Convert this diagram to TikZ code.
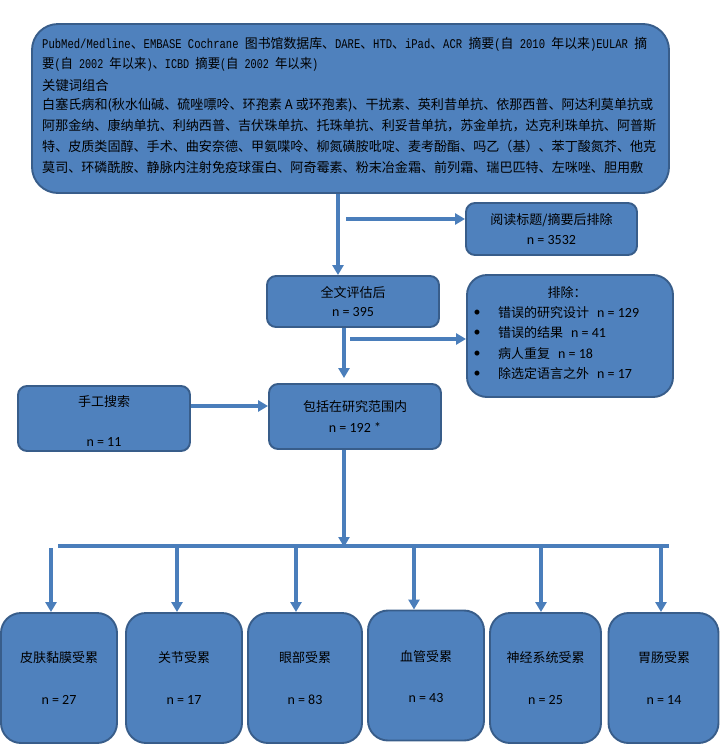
\documentclass[tikz,border=0pt]{standalone}
\usepackage{fontspec}
\usepackage{graphicx}
\setmainfont{Carlito}
\newfontfamily\cjk{Noto Sans CJK SC}
\newfontfamily\lmono{Liberation Mono}
\usetikzlibrary{arrows.meta,calc}
\definecolor{boxfill}{HTML}{4F81BD}
\definecolor{boxline}{HTML}{385D8A}
\definecolor{arrowc}{HTML}{4A7EBB}
\newcommand\lt[1]{\scalebox{0.82}[1]{\lmono\fontsize{13.3pt}{16pt}\selectfont #1}}
\newcommand\nm[1]{{\rmfamily\fontsize{14pt}{16pt}\selectfont #1}}
\newcommand\fitline[2]{\resizebox{#1}{\height}{#2}}
\begin{document}
\begin{tikzpicture}[x=1pt,y=-1pt,
  box/.style={draw=boxline, fill=boxfill, line width=1.9pt, rounded corners=9pt, inner sep=0pt},
  bigbox/.style={box, rounded corners=20pt},
  conn/.style={draw=arrowc, line width=3.2pt, -{Triangle[length=10pt,width=11pt]}},
  busline/.style={draw=arrowc, line width=3.2pt},
  cj/.style={font=\cjk\fontsize{13pt}{16pt}\selectfont, inner sep=0pt, text=black},
  num/.style={font=\fontsize{14pt}{16pt}\selectfont, inner sep=0pt, text=black},
  topline/.style={font=\cjk\fontsize{13.3pt}{16pt}\selectfont, inner sep=0pt, anchor=west, text=black},
]
\useasboundingbox (0,0) rectangle (720,745);

% search box
\node[box, rounded corners=26pt, minimum width=637pt, minimum height=169pt] (search) at (350.5,108.5) {};
\node[topline] (l1) at (42,44) {\fitline{605pt}{\lt{PubMed/Medline}、\lt{EMBASE Cochrane }图书馆数据库、\lt{DARE}、\lt{HTD}、\lt{iPad}、\lt{ACR }摘要\lt{(}自\lt{ 2010 }年以来\lt{)EULAR }摘}};
\node[topline] (l2) at (42,64.5) {\fitline{276pt}{要\lt{(}自\lt{ 2002 }年以来\lt{)}、\lt{ICBD }摘要\lt{(}自\lt{ 2002 }年以来\lt{)}}};
\node[topline] (l3) at (42,85) {关键词组合};
\node[topline] (l4) at (42,105.5) {\fitline{611pt}{白塞氏病和(秋水仙碱、硫唑嘌呤、环孢素 A 或环孢素)、干扰素、英利昔单抗、依那西普、阿达利莫单抗或}};
\node[topline] (l5) at (42,126) {\fitline{614pt}{阿那金纳、康纳单抗、利纳西普、吉伏珠单抗、托珠单抗、利妥昔单抗，苏金单抗，达克利珠单抗、阿普斯}};
\node[topline] (l6) at (42,146.5) {\fitline{614pt}{特、皮质类固醇、手术、曲安奈德、甲氨喋呤、柳氮磺胺吡啶、麦考酚酯、吗乙（基）、苯丁酸氮芥、他克}};
\node[topline] (l7) at (42,167) {\fitline{601pt}{莫司、环磷酰胺、静脉内注射免疫球蛋白、阿奇霉素、粉末冶金霜、前列霜、瑞巴匹特、左咪唑、胆用敷}};

% read exclusion
\node[box, minimum width=171pt, minimum height=52pt] (read) at (551.5,229) {};
\node[cj] (readt) at (551.5,220) {阅读标题/摘要后排除};
\node[num] (readn) at (551.5,240) {n = 3532};

% full text
\node[box, minimum width=172pt, minimum height=51pt] (full) at (353,301.5) {};
\node[cj] (fullt) at (353,292) {全文评估后};
\node[num] (fulln) at (353,312) {n = 395};

% exclusion list
\node[bigbox, minimum width=206pt, minimum height=122pt] (excl) at (570,336) {};
\node[cj] (exclt) at (567,293) {排除：};
\node[num] (d1) at (477,313) {•};
\node[num] (d2) at (477,333) {•};
\node[num] (d3) at (477,354) {•};
\node[num] (d4) at (477,374) {•};
\node[cj, anchor=west] (e1) at (498,313) {错误的研究设计\hspace{8pt}\nm{n = 129}};
\node[cj, anchor=west] (e2) at (498,333) {错误的结果\hspace{8pt}\nm{n = 41}};
\node[cj, anchor=west] (e3) at (498,354) {病人重复\hspace{8pt}\nm{n = 18}};
\node[cj, anchor=west] (e4) at (498,374) {除选定语言之外\hspace{8pt}\nm{n = 17}};

% manual search
\node[box, minimum width=172pt, minimum height=65pt] (manual) at (104,418.5) {};
\node[cj] (manualt) at (104,402) {手工搜索};
\node[num] (manualn) at (104,442) {n = 11};

% included
\node[box, minimum width=172pt, minimum height=65pt] (incl) at (355,416.5) {};
\node[cj] (inclt) at (355,407) {包括在研究范围内};
\node[num] (incln) at (355,428) {n = 192 *};

% bottom boxes
\node[bigbox, minimum width=116pt, minimum height=130pt] (sk) at (59,678) {};
\node[cj] (skt) at (59,658) {皮肤黏膜受累};
\node[num] (skn) at (59,700) {n = 27};
\node[bigbox, minimum width=116pt, minimum height=130pt] (jt) at (184,678) {};
\node[cj] (jtt) at (184,658) {关节受累};
\node[num] (jtn) at (184,700) {n = 17};
\node[bigbox, minimum width=114pt, minimum height=130pt] (ey) at (305,678) {};
\node[cj] (eyt) at (305,658) {眼部受累};
\node[num] (eyn) at (305,700) {n = 83};
\node[bigbox, minimum width=116pt, minimum height=130pt] (vs) at (426,675.5) {};
\node[cj] (vst) at (426,657) {血管受累};
\node[num] (vsn) at (426,698) {n = 43};
\node[bigbox, minimum width=111pt, minimum height=130pt] (ns) at (545.5,678) {};
\node[cj] (nst) at (545.5,658) {神经系统受累};
\node[num] (nsn) at (545.5,700) {n = 25};
\node[bigbox, minimum width=110pt, minimum height=130pt] (gi) at (663.5,678) {};
\node[cj] (git) at (664,658) {胃肠受累};
\node[num] (gin) at (664,700) {n = 14};

% connectors
\draw[conn] ([xshift=-15pt]full.north |- search.south) -- ([xshift=-15pt]full.north);
\coordinate (c1) at (346,219);
\draw[conn] (c1) -- (c1 -| read.west);
\draw[conn, shorten >=5pt] ([xshift=-9pt]full.south) -- ([xshift=-9pt]full.south |- incl.north);
\coordinate (c2) at (350,339);
\draw[conn] (c2) -- (c2 -| excl.west);
\draw[conn] ([yshift=12.5pt]manual.east) -- ([yshift=12.5pt]manual.east -| incl.west);
\coordinate (busL) at (58,546);
\coordinate (busR) at (669,546);
\draw[conn, shorten >=-1pt] ([xshift=-11pt]incl.south) -- ([xshift=-11pt]incl.south |- busL);
\draw[busline] (busL) -- (busR);
\coordinate (b1top) at (51,548);
\draw[conn] (b1top) -- (b1top |- sk.north);
\draw[conn] ([xshift=-7pt]jt.north |- busL) -- ([xshift=-7pt]jt.north);
\draw[conn] ([xshift=-9pt]ey.north |- busL) -- ([xshift=-9pt]ey.north);
\draw[conn] ([xshift=-12pt]vs.north |- busL) -- ([xshift=-12pt]vs.north);
\draw[conn] ([xshift=-4.5pt]ns.north |- busL) -- ([xshift=-4.5pt]ns.north);
\draw[conn] ([xshift=-2.5pt]gi.north |- busL) -- ([xshift=-2.5pt]gi.north);
\end{tikzpicture}
\end{document}
